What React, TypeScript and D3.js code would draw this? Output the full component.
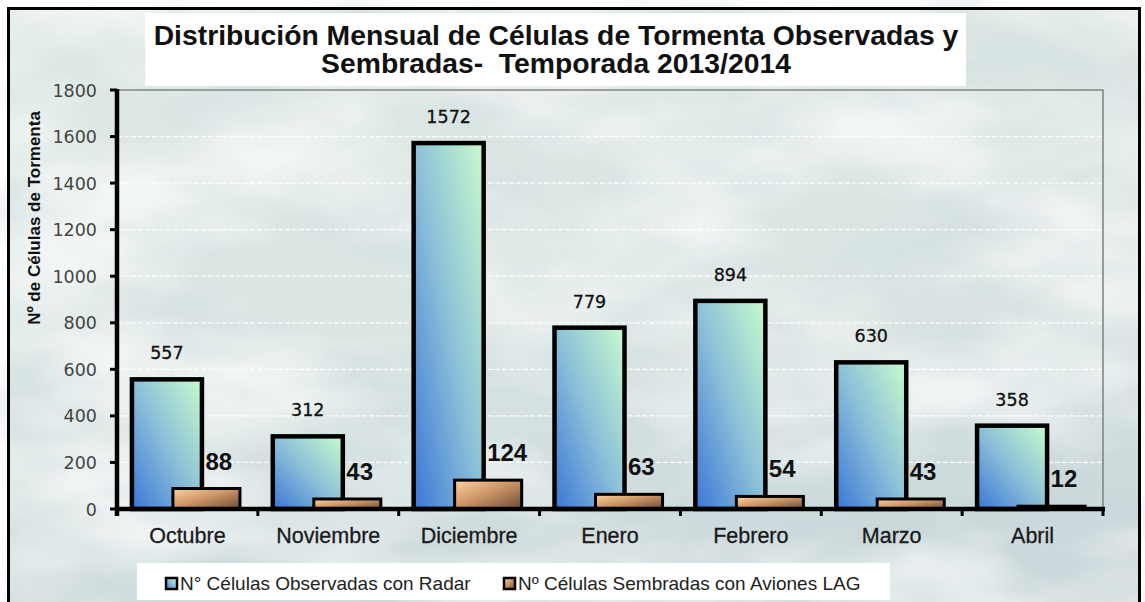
import React from "react";
import * as d3 from "d3";

const categories = ["Octubre", "Noviembre", "Diciembre", "Enero", "Febrero", "Marzo", "Abril"];
const observed = [557, 312, 1572, 779, 894, 630, 358];
const seeded = [88, 43, 124, 63, 54, 43, 12];
const yTicks = [0, 200, 400, 600, 800, 1000, 1200, 1400, 1600, 1800];
const titleLines = [
  "Distribución Mensual de Células de Tormenta Observadas y",
  "Sembradas-\u00a0 Temporada 2013/2014",
];
const yTitle = "Nº de Células de Tormenta";
const legendLabels = ["N° Células Observadas con Radar", "Nº Células Sembradas con Aviones LAG"];

const W = 1145;
const H = 602;
const plotLeft = 117;
const plotRight = 1103;
const plotTop = 90;
const plotBottom = 509;

export default function App() {
  const x = d3.scaleBand<string>().domain(categories).range([plotLeft, plotRight]).padding(0);
  const y = d3.scaleLinear().domain([0, 1800]).range([plotBottom, plotTop]);
  const bw = x.bandwidth();
  const blueX = (c: string) => (x(c) as number) + bw * 0.106;
  const blueW = bw * 0.497;
  const brownX = (c: string) => (x(c) as number) + bw * 0.397;
  const brownW = bw * 0.476;
  const boundaries = d3.range(categories.length + 1).map((k) => plotLeft + k * bw);

  return (
    <svg
      width={W}
      height={H}
      style={{ position: "absolute", left: 0, top: 0, display: "block" }}
      xmlns="http://www.w3.org/2000/svg"
    >
      <defs>
        <linearGradient id="bg" x1="0" y1="0" x2="0.3" y2="1">
          <stop offset="0" stopColor="#dde8e5" />
          <stop offset="0.6" stopColor="#dbe6e4" />
          <stop offset="1" stopColor="#ccd9db" />
        </linearGradient>
        <filter id="cloudsLight" x="0" y="0" width={W} height={H + 20} filterUnits="userSpaceOnUse">
          <feTurbulence type="fractalNoise" baseFrequency="0.004 0.009" numOctaves="4" seed="7" />
          <feColorMatrix
            type="matrix"
            values="0 0 0 0 1  0 0 0 0 1  0 0 0 0 1  2.8 0 0 0 -1.1"
          />
        </filter>
        <filter id="cloudsDark" x="0" y="0" width={W} height={H + 20} filterUnits="userSpaceOnUse">
          <feTurbulence type="fractalNoise" baseFrequency="0.005 0.011" numOctaves="4" seed="21" />
          <feColorMatrix
            type="matrix"
            values="0 0 0 0 0.62  0 0 0 0 0.70  0 0 0 0 0.74  0 2.8 0 0 -1.25"
          />
        </filter>
        <linearGradient id="blueGrad" x1="0" y1="1" x2="1" y2="0">
          <stop offset="0" stopColor="#3a76d6" />
          <stop offset="0.5" stopColor="#8cc0d8" />
          <stop offset="1" stopColor="#c8fbcc" />
        </linearGradient>
        <linearGradient id="brownGrad" x1="0" y1="0" x2="1" y2="1">
          <stop offset="0" stopColor="#ffd4a4" />
          <stop offset="0.45" stopColor="#d09868" />
          <stop offset="1" stopColor="#6a4c36" />
        </linearGradient>
      </defs>

      {/* background */}
      <rect x={0} y={0} width={W} height={H} fill="#ffffff" />
      <rect x={8.5} y={8.5} width={1131} height={H} fill="url(#bg)" />
      <rect x={8.5} y={8.5} width={1131} height={H} filter="url(#cloudsDark)" opacity={0.55} />
      <rect x={8.5} y={8.5} width={1131} height={H} filter="url(#cloudsLight)" opacity={0.65} />
      <rect x={8.5} y={8.5} width={1131} height={H + 10} fill="none" stroke="#000" strokeWidth={3} />

      {/* title */}
      <rect x={145} y={13} width={821} height={73} fill="#ffffff" />
      {titleLines.map((t, i) => (
        <text
          key={i}
          x={556}
          y={45 + i * 28}
          textAnchor="middle"
          fontFamily="Liberation Sans, Arial, sans-serif"
          fontWeight="bold"
          fontSize={28.3}
          fill="#111"
        >
          {t}
        </text>
      ))}

      {/* plot border */}
      <polyline
        points={`${plotLeft},${plotTop} ${plotRight},${plotTop} ${plotRight},${plotBottom}`}
        fill="none"
        stroke="#858585"
        strokeWidth={1.6}
      />

      {/* gridlines */}
      {yTicks
        .filter((t) => t > 0 && t < 1800)
        .map((t) => (
          <line
            key={t}
            x1={plotLeft}
            x2={plotRight}
            y1={y(t)}
            y2={y(t)}
            stroke="#ffffff"
            strokeOpacity={0.9}
            strokeWidth={1.2}
            strokeDasharray="5,2"
          />
        ))}

      {/* blue bars */}
      {categories.map((c, i) => (
        <rect
          key={"b" + c}
          x={blueX(c)}
          y={y(observed[i])}
          width={blueW}
          height={plotBottom - y(observed[i])}
          fill="url(#blueGrad)"
          stroke="#000"
          strokeWidth={4.5}
        />
      ))}
      {/* brown bars */}
      {categories.map((c, i) => (
        <rect
          key={"r" + c}
          x={brownX(c)}
          y={y(seeded[i])}
          width={brownW}
          height={plotBottom - y(seeded[i])}
          fill="url(#brownGrad)"
          stroke="#000"
          strokeWidth={3}
        />
      ))}

      {/* value labels */}
      {categories.map((c, i) => (
        <text
          key={"lb" + c}
          x={blueX(c) + blueW / 2}
          y={y(observed[i]) - 20}
          textAnchor="middle"
          fontFamily="DejaVu Sans, Verdana, sans-serif"
          fontSize={17.5}
          fill="#111"
          stroke="#111"
          strokeWidth={0.3}
        >
          {observed[i]}
        </text>
      ))}
      {categories.map((c, i) => (
        <text
          key={"lr" + c}
          x={brownX(c) + brownW / 2 - 1}
          y={y(seeded[i]) - 19}
          textAnchor="start"
          fontFamily="Liberation Sans, Arial, sans-serif"
          fontWeight="bold"
          fontSize={24}
          fill="#111"
        >
          {seeded[i]}
        </text>
      ))}

      {/* axes */}
      <line x1={plotLeft} x2={plotLeft} y1={plotTop - 1} y2={plotBottom + 7} stroke="#000" strokeWidth={4.5} />
      {yTicks.map((t) => (
        <line key={"yt" + t} x1={110} x2={plotLeft} y1={y(t)} y2={y(t)} stroke="#000" strokeWidth={3} />
      ))}
      <line x1={plotLeft - 2} x2={plotRight + 2} y1={plotBottom} y2={plotBottom} stroke="#000" strokeWidth={4.5} />
      {boundaries.map((bx, k) => (
        <line key={"xt" + k} x1={bx} x2={bx} y1={plotBottom} y2={plotBottom + 7} stroke="#000" strokeWidth={3} />
      ))}

      {/* y tick labels */}
      {yTicks.map((t) => (
        <text
          key={"yl" + t}
          x={97}
          y={y(t) + 6.5}
          textAnchor="end"
          fontFamily="DejaVu Sans, Verdana, sans-serif"
          fontSize={17.5}
          fill="#444"
        >
          {t}
        </text>
      ))}

      {/* category labels */}
      {categories.map((c) => (
        <text
          key={"cl" + c}
          x={(x(c) as number) + bw / 2}
          y={543}
          textAnchor="middle"
          fontFamily="Liberation Sans, Arial, sans-serif"
          fontSize={21.5}
          fill="#1a1a1a"
          stroke="#1a1a1a"
          strokeWidth={0.3}
        >
          {c}
        </text>
      ))}

      {/* y title */}
      <text
        transform={`translate(40,218) rotate(-90)`}
        textAnchor="middle"
        fontFamily="Liberation Sans, Arial, sans-serif"
        fontWeight="bold"
        fontSize={17}
        fill="#111"
      >
        {yTitle}
      </text>

      {/* legend */}
      <rect x={137} y={563} width={753} height={37} fill="#ffffff" />
      <rect x={166} y={578} width={11} height={11} fill="url(#blueGrad)" stroke="#000" strokeWidth={2.5} />
      <text x={180} y={590} fontFamily="Liberation Sans, Arial, sans-serif" fontSize={19} fill="#222">
        {legendLabels[0]}
      </text>
      <rect x={504} y={578} width={11} height={11} fill="url(#brownGrad)" stroke="#000" strokeWidth={2.5} />
      <text x={518} y={590} fontFamily="Liberation Sans, Arial, sans-serif" fontSize={19} fill="#222">
        {legendLabels[1]}
      </text>
    </svg>
  );
}
